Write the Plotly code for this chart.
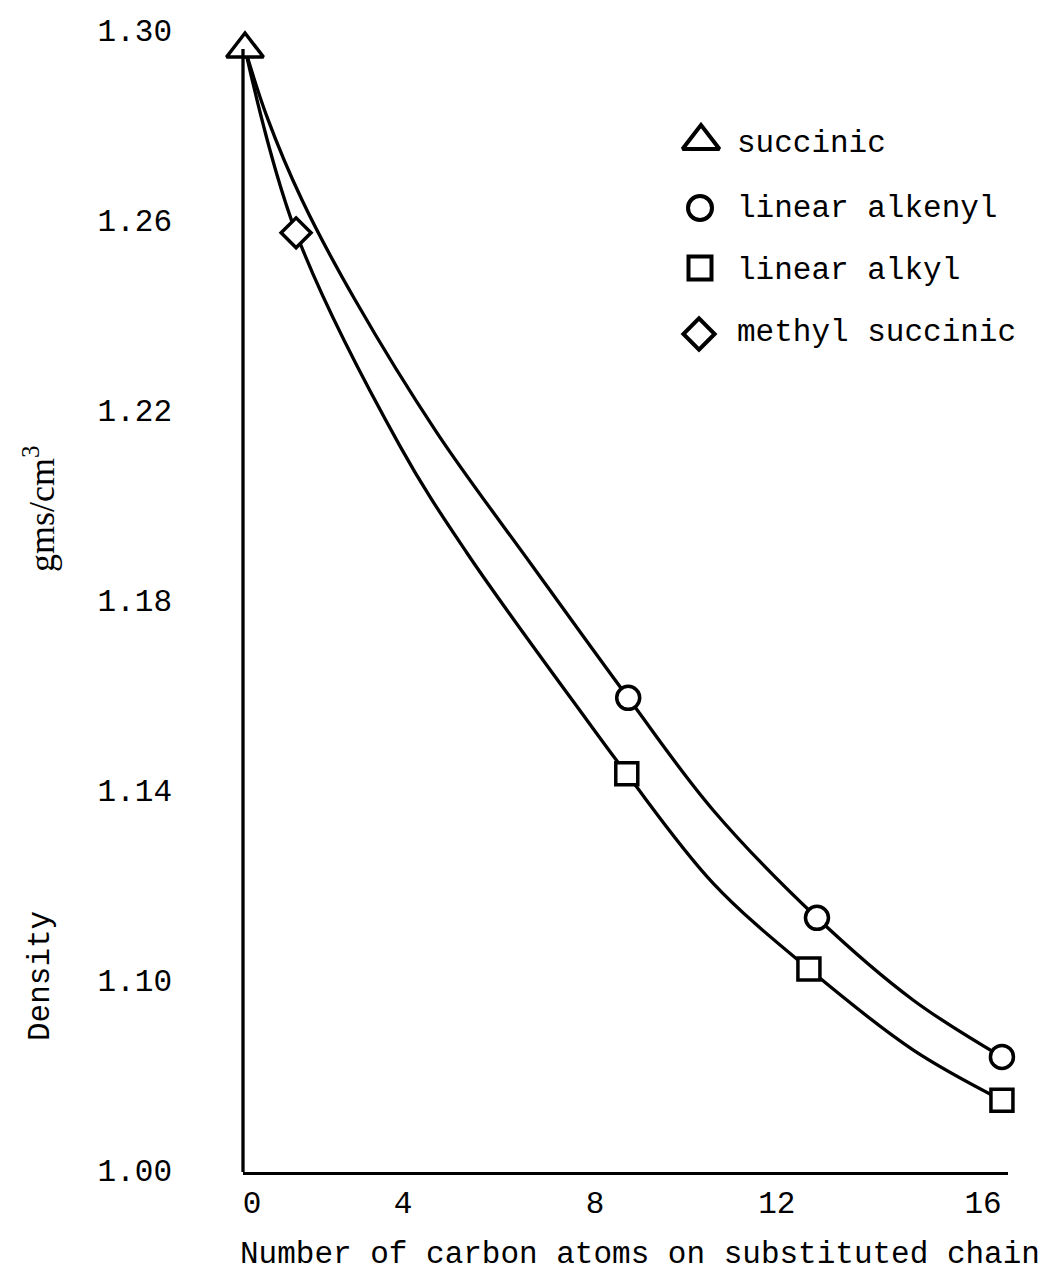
import plotly.graph_objects as go

# ---------------- data ----------------
succinic_x = [0.0]
succinic_y = [1.296]

methyl_succinic_x = [1.08]
methyl_succinic_y = [1.2573]

alkenyl_x = [8.10, 12.09, 16.00]
alkenyl_y = [1.1594, 1.1131, 1.0838]

alkyl_x = [8.07, 11.92, 16.00]
alkyl_y = [1.1434, 1.1023, 1.0747]

# hand-drawn smooth curves
alkenyl_curve_x = [0.0, 0.465, 1.205, 2.325, 4.058, 6.087, 8.10, 9.892, 12.09, 14.12, 16.00]
alkenyl_curve_y = [1.296, 1.2817, 1.2642, 1.2432, 1.2152, 1.1870, 1.1594, 1.1358, 1.1131, 1.0958, 1.0838]

alkyl_curve_x = [0.0, 1.08, 3.276, 4.692, 7.229, 8.07, 9.892, 11.92, 14.12, 16.00]
alkyl_curve_y = [1.296, 1.2573, 1.2124, 1.1899, 1.1547, 1.1434, 1.1204, 1.1023, 1.0853, 1.0747]

# axis ticks (the original axis is broken: "1.00" is printed at the bottom of the axis)
y_tick_values = [1.06, 1.10, 1.14, 1.18, 1.22, 1.26, 1.30]
y_tick_labels = ["1.00", "1.10", "1.14", "1.18", "1.22", "1.26", "1.30"]
x_tick_values = [0.15, 3.34, 7.40, 11.24, 15.60]   # hand-lettered label positions
x_tick_labels = ["0", "4", "8", "12", "16"]

legend_labels = ["succinic", "linear alkenyl", "linear alkyl", "methyl succinic"]
legend_symbols = ["triangle-up", "circle", "square", "diamond"]

x_title = "Number of carbon atoms on substituted chain"
y_title = "Density"
y_unit = "gms/cm<sup>3</sup>"

# ---------------- layout geometry (pixels) ----------------
W, H = 1056, 1274
L, R, T, B = 243, 1008, 20, 1172
X_RANGE = [-0.0423, 16.128]
Y_RANGE = [1.059579, 1.302105]


def px(xp):
    return (xp - L) / (R - L)


def py(yp):
    return (B - yp) / (B - T)


MONO = "Liberation Mono, Courier New, monospace"
SERIF = "Liberation Serif, Times New Roman, serif"
FS = 31
LW = 3.3
MLW = 3.5

sizes = {"triangle-up": 32, "circle": 23, "square": 22, "diamond": 23}

fig = go.Figure()

# curves
for cx, cy in [(alkenyl_curve_x, alkenyl_curve_y), (alkyl_curve_x, alkyl_curve_y)]:
    fig.add_trace(go.Scatter(x=cx, y=cy, mode="lines",
                             line=dict(color="black", width=LW, shape="spline", smoothing=1.0),
                             hoverinfo="skip", showlegend=False))

# markers
series = [
    (succinic_x, succinic_y),
    (alkenyl_x, alkenyl_y),
    (alkyl_x, alkyl_y),
    (methyl_succinic_x, methyl_succinic_y),
]
for (sx, sy), name, sym in zip(series, legend_labels, legend_symbols):
    fig.add_trace(go.Scatter(x=sx, y=sy, mode="markers", name=name,
                             marker=dict(symbol=sym, size=sizes[sym], color="white",
                                         line=dict(color="black", width=MLW)),
                             cliponaxis=False, showlegend=False))

# hand-made legend on an overlay axis measured in pixels
leg_marker_x = [701, 700, 700, 699]
leg_marker_y = [141, 208, 268, 334]
leg_text_x = [737, 737, 737, 737]
leg_text_y = [144, 209, 271, 333]
for i, (lab, sym) in enumerate(zip(legend_labels, legend_symbols)):
    fig.add_trace(go.Scatter(x=[leg_marker_x[i]], y=[leg_marker_y[i]], mode="markers",
                             xaxis="x2", yaxis="y2",
                             marker=dict(symbol=sym, size=sizes[sym] + (1 if sym != "triangle-up" else 0),
                                         color="white", line=dict(color="black", width=MLW + 0.5)),
                             cliponaxis=False, showlegend=False, hoverinfo="skip"))
    fig.add_trace(go.Scatter(x=[leg_text_x[i]], y=[leg_text_y[i]], mode="text", text=[lab],
                             textposition="middle right", xaxis="x2", yaxis="y2",
                             textfont=dict(family=MONO, size=FS, color="black"),
                             cliponaxis=False, showlegend=False, hoverinfo="skip"))

# y axis line (starts under the succinic triangle)
fig.add_shape(type="line", xref="paper", yref="y", x0=0, x1=0,
              y0=succinic_y[0], y1=Y_RANGE[0], line=dict(color="black", width=LW))

fig.update_layout(
    width=W, height=H, autosize=False,
    margin=dict(l=L, r=W - R, t=T, b=H - B, pad=0),
    paper_bgcolor="white", plot_bgcolor="white",
    showlegend=False,
    xaxis=dict(range=X_RANGE, tickvals=x_tick_values, ticktext=x_tick_labels,
               showline=True, linecolor="black", linewidth=LW, showgrid=False, zeroline=False,
               ticks="", ticklabelstandoff=1,
               tickfont=dict(family=MONO, size=FS, color="black")),
    yaxis=dict(range=Y_RANGE, tickvals=y_tick_values, ticktext=y_tick_labels,
               showline=False, showgrid=False, zeroline=False,
               ticks="", ticklabelstandoff=70,
               tickfont=dict(family=MONO, size=FS, color="black")),
    xaxis2=dict(range=[L, R], overlaying="x", visible=False),
    yaxis2=dict(range=[B, T], overlaying="y", visible=False),
    annotations=[
        dict(text=x_title, xref="paper", yref="paper", x=px(640), y=py(1254),
             xanchor="center", yanchor="middle", showarrow=False, borderpad=0,
             font=dict(family=MONO, size=FS, color="black")),
        dict(text=y_title, xref="paper", yref="paper", x=px(40), y=py(976),
             xanchor="center", yanchor="middle", showarrow=False, textangle=-90,
             font=dict(family=MONO, size=FS, color="black")),
        dict(text=y_unit, xref="paper", yref="paper", x=px(40), y=py(509),
             xanchor="center", yanchor="middle", showarrow=False, textangle=-90,
             font=dict(family=SERIF, size=36, color="black")),
    ],
)

fig.write_html("out.html")
